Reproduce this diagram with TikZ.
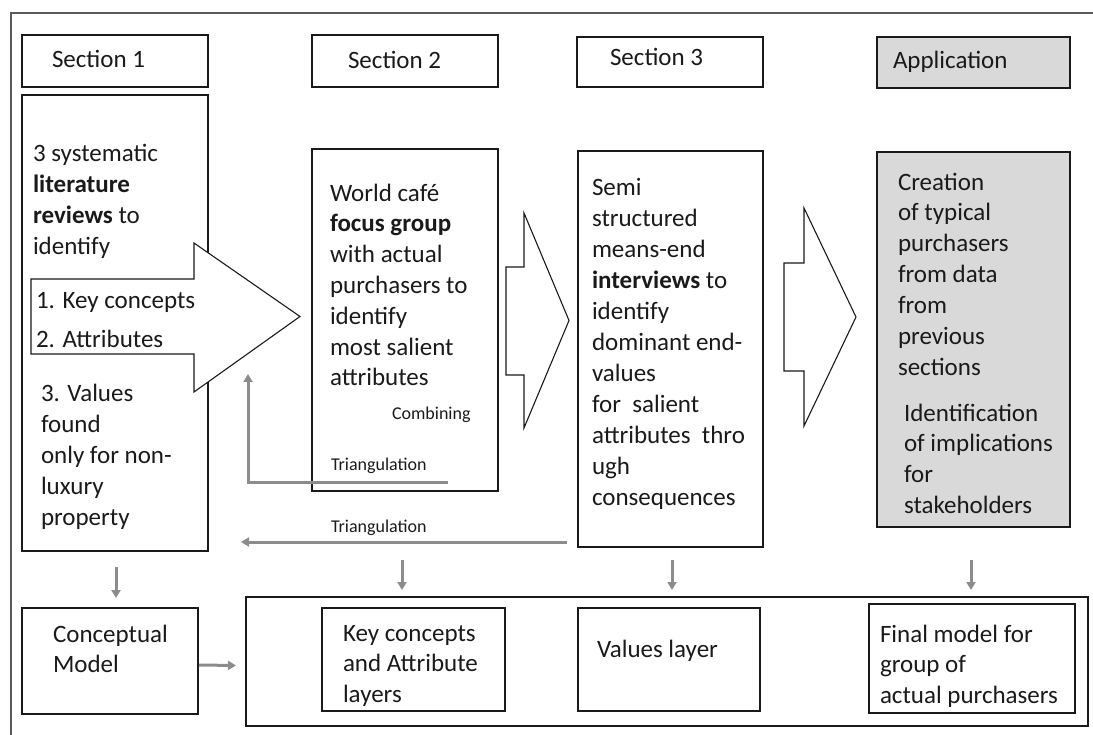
\documentclass[tikz,border=0pt]{standalone}
\usepackage{fontspec}
\setmainfont{Carlito}
\usetikzlibrary{arrows.meta,calc}
\definecolor{arrowgray}{HTML}{8C8C8C}
\definecolor{panelgray}{HTML}{D9D9D9}
\definecolor{framegray}{HTML}{5A5A5A}
\definecolor{ink}{HTML}{1A1A1A}
% fixed first-line height, so a text block's top sits 18.75pt above its first baseline
\newcommand\tallstrut{\rule{0pt}{18.75pt}}

\begin{document}
\begin{tikzpicture}[x=1pt,y=-1pt,
  box/.style={draw=ink, line width=1.1pt, inner sep=0pt, outer sep=0pt, anchor=north west},
  shadebox/.style={box, fill=panelgray},
  txt/.style={anchor=north west, inner sep=0pt, outer sep=0pt, align=left, text=ink,
              font=\fontsize{25}{30.8}\selectfont},
  smalltxt/.style={anchor=base west, inner sep=0pt, outer sep=0pt, text=ink,
              font=\fontsize{18}{22}\selectfont},
  flow/.style={draw=arrowgray, line width=3pt, -{Triangle[length=8pt,width=9pt]}},
  blockarrow/.style={draw=ink, line width=1.1pt, fill=white, line join=miter},
]
\useasboundingbox (0,0) rectangle (1093,735);

% outer frame (runs off the right and bottom edges)
\draw[framegray, line width=1.6pt] (11,760) -- (11,13) -- (1110,13);

% column headers
\node[box, minimum width=186, minimum height=52] (s1h) at (22,35) {};
\node[box, minimum width=186, minimum height=52] (s2h) at (312,35) {};
\node[box, minimum width=186, minimum height=50] (s3h) at (577,37) {};
\node[shadebox, minimum width=193, minimum height=51] (apph) at (877,37) {};
\node[txt] (s1ht) at (52,49.25) {\tallstrut Section 1};
\node[txt] (s2ht) at (348,50.25) {\tallstrut Section 2};
\node[txt] (s3ht) at (610,47.25) {\tallstrut Section 3};
\node[txt] (appht) at (893,50.25) {\tallstrut Application};

% column bodies
\node[box, minimum width=186, minimum height=456] (s1) at (22,95) {};
\node[box, minimum width=186, minimum height=342] (s2) at (312,149) {};
\node[box, minimum width=185, minimum height=396] (s3) at (578,151) {};
\node[shadebox, minimum width=193, minimum height=375] (app) at (877,152) {};

% block arrows between the columns
\draw[blockarrow] (31,279) -- (194,279) -- (194,243) -- (300,316.5) -- (194,392)
  -- (194,354) -- (31,354) -- cycle;
\draw[blockarrow] (506,267) -- (524,267) -- (524,213) -- (569,320.5) -- (524,428)
  -- (524,375) -- (506,375) -- cycle;
\draw[blockarrow] (784,263) -- (804,263) -- (804,208) -- (856,317) -- (804,426)
  -- (804,371) -- (784,371) -- cycle;

% Section 1 text
\node[txt] (t1a) at (33,143.25) {\tallstrut 3 systematic\\\textbf{literature}\\\textbf{reviews} to\\identify};
\node[txt, font=\fontsize{25}{39}\selectfont] (t1b) at (36,290.25) {\tallstrut 1. Key concepts\\2. Attributes};
\node[txt, font=\fontsize{25}{31}\selectfont] (t1c) at (41,382.25)
  {\tallstrut 3. Values\\found\\only for non-\\luxury\\property};

% Section 2 text
\node[txt] (t2) at (330,182.25)
  {\tallstrut World café\\\textbf{focus group}\\with actual\\purchasers to\\identify\\most salient\\attributes};
\node[smalltxt] (comb) at (392,419) {Combining};
\node[smalltxt] (tri1) at (331,470) {Triangulation};

% Section 3 text
\node[txt, font=\fontsize{25}{31}\selectfont] (t3) at (592,176.25)
  {\tallstrut Semi\\structured\\means-end\\\textbf{interviews} to\\identify\\dominant end-\\values\\for\ \ salient\\attributes\ \ thro\\ugh\\consequences};
\node[smalltxt] (tri2) at (331,532) {Triangulation};

% Application text
\node[txt, font=\fontsize{25}{30.9}\selectfont] (ta) at (898,171.25)
  {\tallstrut Creation\\of typical\\purchasers\\from data\\from\\previous\\sections};
\node[txt, font=\fontsize{25}{30.7}\selectfont] (tb) at (904,402.25)
  {\tallstrut Identification\\of implications\\for\\stakeholders};

% bottom row
\node[box, minimum width=176, minimum height=106] (cm) at (22,608) {};
\node[box, minimum width=842, minimum height=129] (lay) at (246,597) {};
\node[box, minimum width=183, minimum height=103] (kc) at (322,608) {};
\node[box, minimum width=182, minimum height=103] (vl) at (578,608) {};
\node[box, minimum width=206, minimum height=109] (fm) at (869,604) {};
\node[txt] (cmt) at (53,623.25) {\tallstrut Conceptual\\Model};
\node[txt] (kct) at (343,622.25) {\tallstrut Key concepts\\and Attribute\\layers};
\node[txt] (vlt) at (597,638.25) {\tallstrut Values layer};
\node[txt] (fmt) at (880,623.25) {\tallstrut Final model for\\group of\\actual purchasers};

% triangulation feedback arrows
\draw[flow] ($(s2.south west)+(136,-9)$) -| ($(s1.north east)+(40,279)$);
\draw[flow] ($(s3.south west)+(-11,-5)$) -- ($(s1.south east)+(33,-9)$);

% arrows down to the model layers
\draw[flow] ($(s1.south)+(1,16)$) -- ($(cm.north)+(6,-10)$);
\draw[flow] ($(s2.south)+(-3,69)$) -- ($(lay.north west)+(156,-7)$);
\draw[flow] ($(s3.south)+(1.5,13)$) -- ($(lay.north west)+(426,-7)$);
\draw[flow] ($(app.south)+(-2.5,33)$) -- ($(lay.north west)+(725,-7)$);
\draw[flow] ($(cm.east)+(1,4)$) -- ($(lay.west)+(-10,4)$);

\end{tikzpicture}
\end{document}
